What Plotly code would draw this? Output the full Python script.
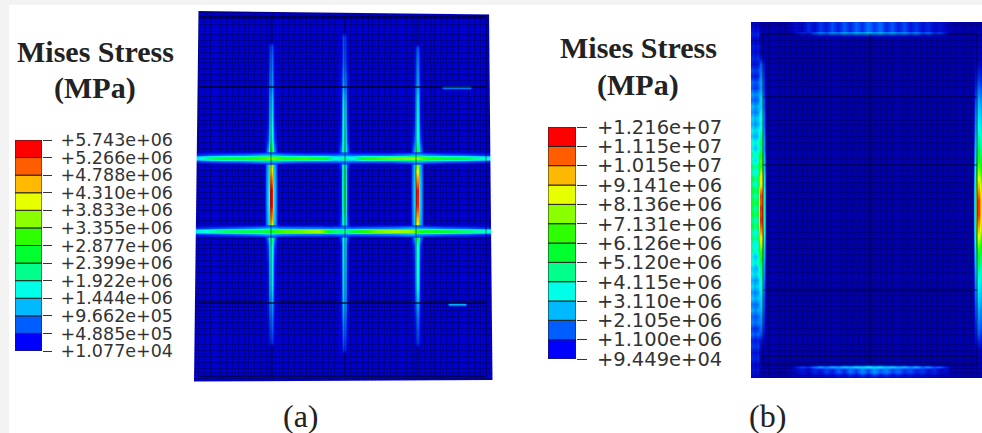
import plotly.graph_objects as go

# ---------- legend values ----------
legend_a_values = [10770, 488500, 966200, 1444000, 1922000, 2399000, 2877000, 3355000, 3833000, 4310000, 4788000, 5266000, 5743000]
legend_a_labels = ["+1.077e+04", "+4.885e+05", "+9.662e+05", "+1.444e+06", "+1.922e+06", "+2.399e+06", "+2.877e+06", "+3.355e+06", "+3.833e+06", "+4.310e+06", "+4.788e+06", "+5.266e+06", "+5.743e+06"]
legend_b_values = [94490, 1100000, 2105000, 3110000, 4115000, 5120000, 6126000, 7131000, 8136000, 9141000, 10150000, 11150000, 12160000]
legend_b_labels = ["+9.449e+04", "+1.100e+06", "+2.105e+06", "+3.110e+06", "+4.115e+06", "+5.120e+06", "+6.126e+06", "+7.131e+06", "+8.136e+06", "+9.141e+06", "+1.015e+07", "+1.115e+07", "+1.216e+07"]
band_colors = ["#0000ff", "#005dff", "#00b9ff", "#00ffe8", "#00ff8b", "#00ff2e", "#2eff00", "#8bff00", "#e8ff00", "#ffb900", "#ff5d00", "#ff0000"]

# ---------- panel (a): stress read along each concentration band (in 1e6 MPa) ----------
a_v1_x = 271
a_v1_y =    [40, 46, 60, 80, 87, 100, 120, 140, 152, 158, 166, 176, 190, 205, 220, 231, 245, 265, 285, 303, 320, 342, 347]
a_v1_core = [0, .6, .8, 1.0, 1.0, 1.4, 1.7, 2.1, 3.0, 3.4, 4.0, 4.9, 5.7, 5.7, 4.8, 3.4, 2.0, 1.8, 1.7, 1.1, .8, .5, 0]
a_v1_glow = [0, .1, .15, .2, .3, .25, .3, .6, 1.1, 1.4, 1.4, 1.5, 1.6, 1.6, 1.5, 1.3, .6, .35, .3, .3, .2, .1, 0]
a_v2_x = 344
a_v2_y =    [31, 36, 60, 78, 87, 100, 120, 140, 152, 158, 170, 190, 210, 231, 245, 265, 285, 303, 325, 349, 354]
a_v2_core = [0, .6, .7, 1.0, 1.1, 1.7, 2.0, 2.3, 2.5, 2.0, 2.7, 3.0, 2.8, 1.9, 1.8, 1.7, 1.6, 1.3, .9, .5, 0]
a_v2_glow = [0, .1, .15, .3, .3, .25, .3, .5, .9, .9, .4, .4, .4, .8, .3, .3, .25, .3, .2, .1, 0]
a_v3_x = 417
a_v3_y =    [42, 47, 60, 80, 87, 100, 120, 140, 152, 158, 166, 176, 190, 205, 220, 231, 245, 265, 285, 303, 320, 342, 347]
a_v3_core = [0, .6, .8, 1.0, 1.1, 1.5, 1.7, 2.0, 2.8, 3.2, 3.8, 4.8, 5.7, 5.6, 4.6, 3.4, 2.0, 1.9, 1.8, 1.1, .7, .5, 0]
a_v3_glow = [0, .1, .15, .2, .3, .25, .3, .6, 1.1, 1.4, 1.3, 1.4, 1.5, 1.5, 1.4, 1.3, .5, .35, .3, .3, .2, .1, 0]
a_h1_y = 158
a_h1_x =    [197, 210, 225, 245, 260, 271, 285, 305, 325, 335, 344, 352, 365, 390, 410, 417, 425, 445, 465, 488]
a_h1_core = [1.6, 2.6, 3.0, 3.1, 3.4, 3.7, 3.2, 3.4, 3.0, 2.0, 2.3, 2.0, 3.2, 3.6, 3.8, 3.9, 3.4, 3.0, 2.8, 1.9]
a_h1_glow = [.5, .7, .8, .9, 1.2, 1.4, 1.0, .8, .8, .8, 1.0, .8, .8, .8, 1.1, 1.4, 1.1, .8, .7, .5]
a_h2_y = 231
a_h2_x =    [197, 225, 250, 262, 271, 280, 300, 320, 330, 344, 352, 375, 395, 412, 420, 445, 465, 488]
a_h2_core = [1.7, 2.5, 2.7, 2.7, 2.9, 3.4, 3.6, 3.9, 2.7, 2.3, 2.7, 3.6, 3.9, 3.8, 3.0, 2.8, 2.5, 2.0]
a_h2_glow = [.5, .7, .9, 1.1, 1.4, 1.0, .9, .9, .8, 1.0, .8, .9, 1.0, 1.3, 1.1, .8, .7, .5]
a_dash1_x = [441, 443, 470, 472]
a_dash1_y = 87
a_dash2_x = [447, 449, 465, 467]
a_dash2_y = 304
a_dash_core = [0, 1.2, 1.2, 0]
a_part_x = [271, 345, 416, 486]
a_part_y = [17, 87, 303, 376]

# ---------- panel (b): typed row by row, the band there is mottled ----------
b_l_y =     [22, 28, 34, 40, 46, 52, 58, 64, 70, 76, 82, 88, 94, 100, 106, 112, 118, 124, 130, 136, 142, 148, 154, 160, 166, 172, 178, 184, 190, 196, 202, 208, 214, 220, 226, 232, 238, 244, 250, 256, 262, 268, 274, 280, 286, 292, 298, 304, 310, 316, 322, 328, 334, 340, 346, 352, 358, 364, 370, 378]
b_l_core =  [0, .1, .2, .1, .3, .2, .6, 1.4, 1.6, 1.9, 2.3, 2.2, 2.7, 3.2, 3.0, 3.6, 4.0, 3.7, 4.4, 5.0, 5.6, 5.2, 6.2, 7.4, 7.0, 8.2, 9.4, 9.0, 10.6, 11.6, 11.2, 11.9, 11.6, 11.9, 11.2, 10.4, 9.2, 8.4, 7.2, 6.8, 5.8, 5.2, 4.9, 4.4, 3.8, 3.6, 3.1, 2.9, 2.6, 2.2, 2.0, 1.6, 1.3, .7, .4, .3, .1, .2, .1, 0]
b_l_outer = [.3, .5, .9, .4, .8, .6, 1.0, .7, 1.3, .9, 1.6, 1.3, 2.3, 1.7, 2.7, 2.2, 3.2, 2.6, 3.8, 3.0, 4.4, 3.6, 5.0, 4.2, 5.6, 4.6, 6.0, 5.0, 6.4, 5.4, 6.6, 5.6, 6.4, 5.2, 6.2, 4.8, 5.6, 4.4, 5.0, 3.6, 4.4, 3.2, 3.8, 2.6, 3.4, 2.3, 3.0, 1.9, 2.5, 1.6, 2.0, 1.2, 1.6, .9, 1.2, .7, 1.0, .5, .7, .3]
b_l_x = [752, 755, 758, 760, 762, 764, 766]
b_r_y =     [22, 60, 85, 105, 125, 145, 165, 185, 200, 215, 230, 250, 270, 290, 310, 335, 350, 378]
b_r_core =  [0, .3, 1.4, 2.8, 4.0, 5.4, 7.4, 10.0, 11.6, 11.6, 10.0, 7.0, 5.0, 3.6, 2.4, 1.3, .3, 0]
b_r_x = [973, 975, 977, 979, 982]
b_t_y = [24, 28, 31, 33, 35, 37]
b_t_x =     [790, 796, 802, 808, 814, 820, 826, 832, 838, 844, 850, 856, 862, 868, 874, 880, 886, 892, 898, 904, 910, 916, 922, 928, 934, 940, 946, 952]
b_t_core =  [0, .6, 1.1, .8, 1.7, 2.4, 1.9, 2.8, 2.4, 3.2, 2.7, 3.4, 3.0, 3.6, 2.9, 3.4, 2.6, 3.2, 2.4, 2.8, 2.0, 2.6, 1.6, 2.1, 1.2, 1.5, .7, 0]
b_t_outer = [.2, .5, .3, .9, .5, 1.1, .7, 1.3, .8, 1.4, .9, 1.5, 1.0, 1.7, 1.1, 1.6, .9, 1.4, .8, 1.3, .7, 1.1, .6, .9, .4, .6, .3, .1]
b_b_y = [363, 365, 367, 369, 372, 375, 378]
b_b_x =     [790, 796, 802, 808, 814, 820, 826, 832, 838, 844, 850, 856, 862, 868, 874, 880, 886, 892, 898, 904, 910, 916, 922, 928, 934, 940, 946, 952]
b_b_core =  [0, .7, 1.2, .9, 1.6, 2.3, 1.8, 2.6, 2.2, 3.0, 2.6, 3.4, 3.0, 3.8, 3.2, 3.6, 2.8, 3.2, 2.4, 2.8, 2.0, 2.6, 1.6, 2.1, 1.3, 1.5, .7, 0]
b_b_outer = [.2, .4, .7, .4, .9, .6, 1.2, .8, 1.5, .9, 1.7, 1.1, 2.0, 1.2, 2.2, 1.4, 1.9, 1.2, 1.6, 1.0, 1.3, .8, 1.1, .6, .9, .4, .5, .1]
b_part_x = [763, 870, 977]
b_part_y = [34, 97, 165, 290, 356, 365]

glow_offsets = [-7, -3, -1.2, 1.2, 3, 7]

scale = [[0, "rgba(0,0,255,0)"], [.05, "rgba(0,30,255,.55)"], [.12, "#005dff"], [.22, "#00b9ff"], [.33, "#00ffe8"],
         [.42, "#00ff8b"], [.5, "#00ff2e"], [.58, "#2eff00"], [.66, "#8bff00"], [.75, "#e8ff00"],
         [.83, "#ffb900"], [.92, "#ff5d00"], [1, "#ff0000"]]

W, H = 982, 433
fig = go.Figure()


def heat(x, y, z, zmax, axes):
    fig.add_trace(go.Heatmap(x=x, y=y, z=z, zmin=0, zmax=zmax, zsmooth="best", colorscale=scale,
                             showscale=False, hoverinfo="skip", xaxis=axes[0], yaxis=axes[1]))


def vertical(xc, ys, core, glow, zmax, axes):
    heat([xc + o for o in glow_offsets], ys, [[0, g, c, c, g, 0] for c, g in zip(core, glow)], zmax, axes)


def horizontal(yc, xs, core, glow, zmax, axes):
    z = [[0] * len(xs), glow, core, core, glow, [0] * len(xs)]
    heat(xs, [yc + o for o in glow_offsets], z, zmax, axes)


A = ("x", "y")
B = ("x2", "y2")
for xc, ys, c, g in [(a_v1_x, a_v1_y, a_v1_core, a_v1_glow), (a_v2_x, a_v2_y, a_v2_core, a_v2_glow), (a_v3_x, a_v3_y, a_v3_core, a_v3_glow)]:
    vertical(xc, ys, c, g, 5.743, A)
horizontal(a_h1_y, a_h1_x, a_h1_core, a_h1_glow, 5.743, A)
horizontal(a_h2_y, a_h2_x, a_h2_core, a_h2_glow, 5.743, A)
for xs, yc in [(a_dash1_x, a_dash1_y), (a_dash2_x, a_dash2_y)]:
    heat(xs, [yc - 2, yc - .8, yc + .8, yc + 2], [[0] * 4, a_dash_core, a_dash_core, [0] * 4], 5.743, A)

heat(b_l_x, b_l_y, [[o, o * .8, o, c, c, c * .4, 0] for c, o in zip(b_l_core, b_l_outer)], 12.16, B)
heat(b_r_x, b_r_y, [[0, c * .5, c, c, c * .7] for c in b_r_core], 12.16, B)
heat(b_t_x, b_t_y, [b_t_outer, b_t_outer, b_t_outer, b_t_core, [v * .3 for v in b_t_core], [0] * len(b_t_x)], 12.16, B)
heat(b_b_x, b_b_y, [[0] * len(b_b_x), [v * .4 for v in b_b_core], b_b_core, b_b_outer, b_b_outer, [v * .5 for v in b_b_outer], [v * .3 for v in b_b_outer]], 12.16, B)

# legends: stacked coloured bands on a real value axis
for vals, ax in [(legend_a_values, ("x3", "y3")), (legend_b_values, ("x4", "y4"))]:
    for lo, hi, col in zip(vals[:-1], vals[1:], band_colors):
        fig.add_trace(go.Bar(x=[1], y=[hi - lo], base=[lo], width=1, marker=dict(color=col, line=dict(color="#222", width=1)),
                             showlegend=False, hoverinfo="skip", xaxis=ax[0], yaxis=ax[1]))


def dom(a, b, total):
    return [a / total, b / total]


def ydom(top, bottom):
    return [1 - bottom / H, 1 - top / H]


a_x, a_y = (193, 493), (11, 382)
b_x, b_y = (751, 982), (22, 378)
off = dict(showticklabels=False, ticks="", zeroline=False, showline=False, fixedrange=True, automargin=False)
mesh_a = dict(showgrid=True, gridcolor="rgba(0,0,70,.42)", gridwidth=1, dtick=3.1, **off)
mesh_b = dict(showgrid=True, gridcolor="rgba(0,0,70,.35)", gridwidth=1, dtick=3.1, **off)
fig.update_layout(
    width=W, height=H, margin=dict(l=0, r=0, t=0, b=0, pad=0, autoexpand=False), paper_bgcolor="white", plot_bgcolor="white",
    barmode="overlay", showlegend=False,
    xaxis=dict(domain=dom(*a_x, W), range=list(a_x), **mesh_a),
    yaxis=dict(domain=ydom(*a_y), range=[a_y[1], a_y[0]], **mesh_a),
    xaxis2=dict(domain=dom(*b_x, W), range=list(b_x), **mesh_b),
    yaxis2=dict(domain=ydom(*b_y), range=[b_y[1], b_y[0]], **mesh_b),
    xaxis3=dict(domain=dom(15, 42, W), range=[.5, 1.5], showgrid=False, **off),
    yaxis3=dict(domain=ydom(140, 351), range=[legend_a_values[0], legend_a_values[-1]], side="right", anchor="x3",
                tickvals=legend_a_values, ticktext=legend_a_labels, ticks="outside", ticklen=9, tickcolor="#333", automargin=False,
                showgrid=False, zeroline=False, ticklabelstandoff=5, tickfont=dict(family="DejaVu Sans", size=17.5, color="#333")),
    xaxis4=dict(domain=dom(548, 576, W), range=[.5, 1.5], showgrid=False, **off),
    yaxis4=dict(domain=ydom(127, 359), range=[legend_b_values[0], legend_b_values[-1]], side="right", anchor="x4",
                tickvals=legend_b_values, ticktext=legend_b_labels, ticks="outside", ticklen=10, tickcolor="#333", automargin=False,
                showgrid=False, zeroline=False, ticklabelstandoff=6, tickfont=dict(family="DejaVu Sans", size=19.5, color="#333")),
)

# panel fields
shapes = [
    dict(type="rect", xref="x domain", yref="y domain", x0=0, x1=1, y0=0, y1=1, fillcolor="#0000d4", line_width=0, layer="below"),
    dict(type="rect", xref="x2 domain", yref="y2 domain", x0=0, x1=1, y0=0, y1=1, fillcolor="#0000b0", line_width=0, layer="below"),
    dict(type="rect", xref="paper", yref="paper", x0=0, x1=1, y0=1 - 5 / H, y1=1, fillcolor="#f3f3f3", line_width=0, layer="below"),
    dict(type="rect", xref="paper", yref="paper", x0=0, x1=9 / W, y0=0, y1=1, fillcolor="#f3f3f3", line_width=0, layer="below"),
]
for xv in a_part_x:
    shapes.append(dict(type="line", xref="x", yref="y", x0=xv, x1=xv, y0=a_part_y[0], y1=a_part_y[-1], line=dict(color="rgba(0,0,40,.55)", width=1)))
for yv in a_part_y:
    shapes.append(dict(type="line", xref="x", yref="y", x0=199, x1=a_part_x[-1], y0=yv, y1=yv, line=dict(color="rgba(0,0,30,.85)", width=1.3)))
for xv in b_part_x:
    shapes.append(dict(type="line", xref="x2", yref="y2", x0=xv, x1=xv, y0=b_part_y[0], y1=b_part_y[-1], line=dict(color="rgba(0,0,40,.7)", width=1)))
for yv in b_part_y:
    shapes.append(dict(type="line", xref="x2", yref="y2", x0=b_part_x[0], x1=b_part_x[-1], y0=yv, y1=yv, line=dict(color="rgba(0,0,40,.7)", width=1)))
# panel (a) is slightly skewed in the reference: white wedges trim the rectangle
for path in ["M193,11 L198.5,11 L194,382 L193,382 Z", "M198,11 L493,11 L493,14.5 Z", "M489,11 L493,11 L493,382 L492.5,382 Z", "M194,381.5 L493,380 L493,382 L194,382 Z"]:
    shapes.append(dict(type="path", xref="x", yref="y", path=path, fillcolor="white", line_width=0))
fig.update_layout(shapes=shapes)


def note(text, cx, cy, size, bold=False):
    fig.add_annotation(text=f"<b>{text}</b>" if bold else text, xref="paper", yref="paper", x=cx / W, y=1 - cy / H,
                       showarrow=False, xanchor="center", yanchor="middle",
                       font=dict(family="Liberation Serif", size=size, color="#222"))


note("Mises Stress", 95, 51, 30, True)
note("(MPa)", 95, 88, 30, True)
note("Mises Stress", 638, 47, 30, True)
note("(MPa)", 638, 85, 30, True)
note("(a)", 301, 416, 32)
note("(b)", 767, 416, 32)

fig.write_html("out.html", config=dict(displayModeBar=False),
               post_script="document.body.style.margin='0';document.body.style.overflow='hidden';")
